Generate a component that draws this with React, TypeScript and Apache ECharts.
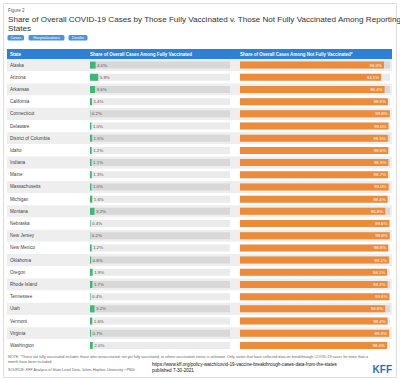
import React, { useEffect, useRef } from "react";
import * as echarts from "echarts";

const states = [
  "Alaska", "Arizona", "Arkansas", "California", "Connecticut", "Delaware",
  "District of Columbia", "Idaho", "Indiana", "Maine", "Massachusetts", "Michigan",
  "Montana", "Nebraska", "New Jersey", "New Mexico", "Oklahoma", "Oregon",
  "Rhode Island", "Tennessee", "Utah", "Vermont", "Virginia", "Washington",
];
const fullyVaccinated = [
  4.0, 5.9, 3.6, 1.4, 0.2, 1.0, 1.5, 1.2, 1.1, 1.3, 1.0, 1.6,
  3.2, 0.4, 0.2, 1.2, 0.8, 1.9, 1.7, 0.4, 3.2, 1.6, 0.7, 2.0,
];
const notFullyVaccinated = [
  96.0, 94.1, 96.4, 98.6, 99.8, 99.0, 98.5, 98.8, 98.9, 98.7, 99.0, 98.4,
  96.8, 99.6, 99.8, 98.8, 99.2, 98.1, 98.3, 99.6, 96.8, 98.4, 99.3, 98.0,
];
const columnHeaders = [
  "State",
  "Share of Overall Cases Among Fully Vaccinated",
  "Share of Overall Cases Among Not Fully Vaccinated*",
];
const tabs = ["Cases", "Hospitalizations", "Deaths"];

const FONT = "Liberation Sans, Arial, sans-serif";
const BLUE = "#2e7fd6";

export default function App() {
  const ref = useRef<HTMLDivElement>(null);
  useEffect(() => {
    if (!ref.current) return;
    const chart = echarts.init(ref.current, null, { renderer: "svg" });
    const top = 59;
    const height = 292.5;
    const trackColor = (i: number) => (i % 2 === 0 ? "#d8d8d8" : "#ebebeb");
    const tabX = [7.5, 28.5, 68.5];
    const tabW = [16.5, 36, 19];
    chart.setOption({
      animation: false,
      textStyle: { fontFamily: FONT },
      grid: [
        { left: 7, width: 385, top, height },
        { left: 90, width: 140, top, height },
        { left: 240, width: 150, top, height },
      ],
      xAxis: [0, 1, 2].map((g) => ({
        type: "value",
        gridIndex: g,
        min: 0,
        max: 100,
        show: false,
      })),
      yAxis: [0, 1, 2].map((g) => ({
        type: "category",
        gridIndex: g,
        data: states,
        inverse: true,
        show: g === 0,
        axisLine: { show: false },
        axisTick: { show: false },
        axisLabel:
          g === 0
            ? { inside: true, margin: 3, fontSize: 4.6, color: "#444", fontFamily: FONT }
            : { show: false },
        splitLine: { show: false },
        splitArea:
          g === 0
            ? { show: true, areaStyle: { color: ["#eeeeee", "#ffffff"] } }
            : { show: false },
      })),
      series: [
        {
          type: "bar",
          xAxisIndex: 0,
          yAxisIndex: 0,
          data: [],
          silent: true,
        },
        {
          type: "bar",
          xAxisIndex: 1,
          yAxisIndex: 1,
          barWidth: 7,
          silent: true,
          data: states.map((_, i) => ({ value: 100, itemStyle: { color: trackColor(i) } })),
        },
        {
          type: "bar",
          xAxisIndex: 1,
          yAxisIndex: 1,
          barWidth: 7,
          barGap: "-100%",
          data: fullyVaccinated,
          itemStyle: { color: "#3cb878" },
          label: {
            show: true,
            position: "right",
            distance: 1.5,
            fontSize: 4.4,
            color: "#555",
            fontFamily: FONT,
            formatter: (p: any) => p.value.toFixed(1) + "%",
          },
        },
        {
          type: "bar",
          xAxisIndex: 2,
          yAxisIndex: 2,
          barWidth: 7,
          silent: true,
          data: states.map((_, i) => ({ value: 100, itemStyle: { color: trackColor(i) } })),
        },
        {
          type: "bar",
          xAxisIndex: 2,
          yAxisIndex: 2,
          barWidth: 7,
          barGap: "-100%",
          data: notFullyVaccinated,
          itemStyle: { color: "#ec8b3a" },
          label: {
            show: true,
            position: "insideRight",
            distance: 2,
            fontSize: 4.4,
            color: "#fff",
            fontFamily: FONT,
            formatter: (p: any) => p.value.toFixed(1) + "%",
          },
        },
      ],
      graphic: [
        {
          type: "rect",
          shape: { x: 3.5, y: 3.5, width: 393, height: 374 },
          style: { fill: "none", stroke: "#dddddd", lineWidth: 1 },
          z: -10,
        },
        {
          type: "text",
          x: 8,
          y: 10,
          style: { text: "Figure 2", fontSize: 4.5, fill: "#555", fontFamily: FONT, verticalAlign: "middle" },
        },
        {
          type: "text",
          x: 8,
          y: 19.5,
          style: {
            text: "Share of Overall COVID-19 Cases by Those Fully Vaccinated v. Those Not Fully Vaccinated Among Reporting",
            fontSize: 8.1,
            fill: "#333",
            fontFamily: FONT,
            verticalAlign: "middle",
          },
        },
        {
          type: "text",
          x: 8,
          y: 28.5,
          style: { text: "States", fontSize: 8.1, fill: "#333", fontFamily: FONT, verticalAlign: "middle" },
        },
        ...tabs.flatMap((t, i) => [
          {
            type: "rect",
            shape: { x: tabX[i], y: 35, width: tabW[i], height: 5.5, r: 1.5 },
            style: { fill: "#4a94de" },
          },
          {
            type: "text",
            x: tabX[i] + tabW[i] / 2,
            y: 37.8,
            style: {
              text: t,
              fontSize: 3.8,
              fill: "#fff",
              fontFamily: FONT,
              align: "center",
              verticalAlign: "middle",
            },
          },
        ]),
        {
          type: "rect",
          shape: { x: 7, y: 49, width: 385, height: 10 },
          style: { fill: BLUE },
        },
        ...columnHeaders.map((h, i) => ({
          type: "text",
          x: [10, 90, 240][i],
          y: 54,
          style: {
            text: h,
            fontSize: 4.5,
            fontWeight: "bold",
            fill: "#fff",
            fontFamily: FONT,
            verticalAlign: "middle",
          },
        })),
        {
          type: "text",
          x: 8,
          y: 359.5,
          style: {
            text:
              "NOTE: *Those not fully vaccinated includes those who unvaccinated, not yet fully vaccinated, or where vaccination status is unknown. Only states that have collected data on breakthrough COVID-19 cases for more than a\nmonth have been included.",
            fontSize: 3.7,
            lineHeight: 4.4,
            fill: "#666",
            fontFamily: FONT,
            verticalAlign: "middle",
          },
        },
        {
          type: "text",
          x: 8,
          y: 369.5,
          style: {
            text: "SOURCE: KFF Analysis of State Level Data, Johns Hopkins University • PNG",
            fontSize: 3.7,
            fill: "#666",
            fontFamily: FONT,
            verticalAlign: "middle",
          },
        },
        {
          type: "text",
          x: 152,
          y: 367.5,
          style: {
            text:
              "https://www.kff.org/policy-watch/covid-19-vaccine-breakthrough-cases-data-from-the-states\npublished 7-30-2021",
            fontSize: 4.6,
            lineHeight: 5.5,
            fill: "#111",
            fontFamily: FONT,
            verticalAlign: "middle",
          },
        },
        {
          type: "text",
          x: 392,
          y: 369,
          style: {
            text: "KFF",
            fontSize: 10,
            fontWeight: 900,
            fill: "#1f70c1",
            fontFamily: FONT,
            align: "right",
            verticalAlign: "middle",
          },
        },
      ],
    });
    return () => chart.dispose();
  }, []);
  return <div ref={ref} style={{ width: 400, height: 381, position: "fixed", left: 0, top: 0, background: "#fff" }} />;
}
